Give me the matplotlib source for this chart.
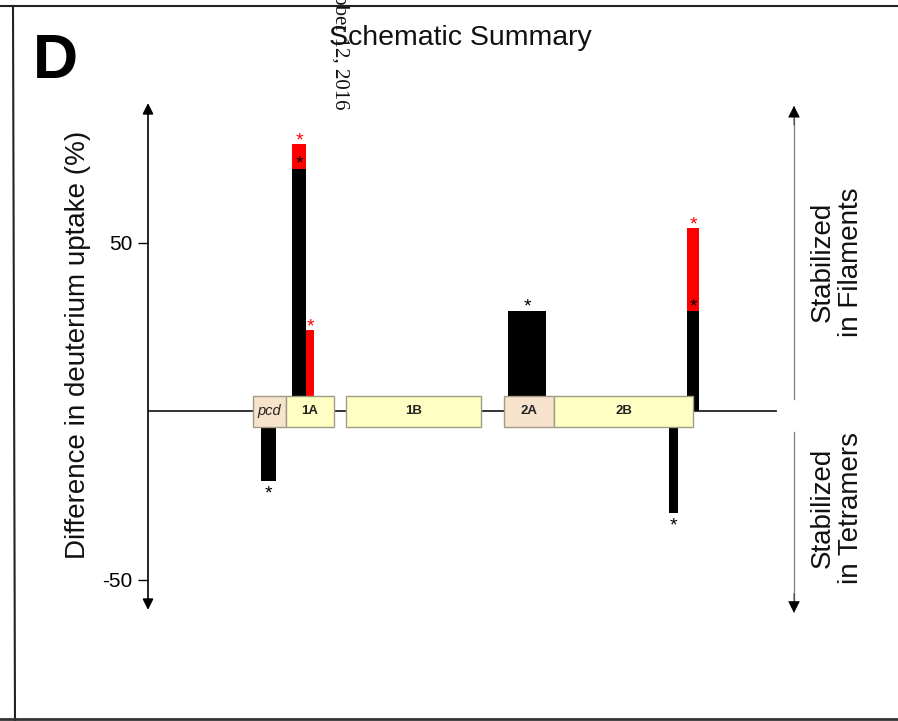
import matplotlib.pyplot as plt
from matplotlib.patches import Rectangle
from matplotlib.lines import Line2D

plt.rcParams['font.family'] = ['Liberation Sans', 'DejaVu Sans']

# domain map along the sequence (schematic positions)
domains = ['pcd', '1A', '1B', '2A', '2B']
dom_start = [105, 138, 198, 356, 406]
dom_end = [138, 186, 333, 406, 545]
dom_fill = ['#f7e3cc', '#ffffc4', '#ffffc4', '#f7e3cc', '#ffffc4']

# peptide bars: sequence span, black part, red part stacked on top (%)
pep_start = [113, 144, 158, 360, 521, 539]
pep_end = [128, 158, 166, 398, 530, 551]
black_vals = [-20.6, 72.0, 0.0, 29.8, -30.1, 29.8]
red_vals = [0.0, 7.4, 24.2, 0.0, 0.0, 24.7]

seq_end = 628

fig = plt.figure(figsize=(8.98, 7.21), dpi=100)
ax = fig.add_axes([148 / 898, 101 / 721, 662 / 898, 525 / 721])
ax.set_xlim(0, 662)
ax.set_ylim(-61.9, 93.9)
for s in ax.spines.values():
    s.set_visible(False)
ax.set_xticks([])
ax.set_yticks([50, -50])
ax.set_yticklabels(['50', '-50'])
ax.tick_params(axis='y', length=7, width=1, pad=4, labelsize=15)

# y axis with arrows at both ends
ax.annotate('', xy=(0, 91.5), xytext=(0, -58.9),
            arrowprops=dict(arrowstyle='<|-|>', color='black', lw=1.2,
                            mutation_scale=16, shrinkA=0, shrinkB=0))

# sequence line
ax.plot([0, seq_end], [0, 0], color='#222222', lw=1.3, zorder=1)

# bars with significance stars
for x0, x1, b, r in zip(pep_start, pep_end, black_vals, red_vals):
    w = x1 - x0
    if b != 0:
        ax.bar(x0, b, width=w, align='edge', color='black', zorder=2)
        off = 0 if b > 0 else -13
        ax.annotate('*', (x0 + w / 2, b), xytext=(0, off), textcoords='offset points',
                    ha='center', va='baseline', fontsize=14, color='black', zorder=5)
    if r != 0:
        ax.bar(x0, r, width=w, bottom=max(b, 0), align='edge', color='#ff0000', zorder=2)
        ax.annotate('*', (x0 + w / 2, max(b, 0) + r), xytext=(0, -1), textcoords='offset points',
                    ha='center', va='baseline', fontsize=14, color='#ff0000', zorder=5)

# domain boxes
for name, x0, x1, fc in zip(domains, dom_start, dom_end, dom_fill):
    ax.add_patch(Rectangle((x0, -4.6), x1 - x0, 9.2, facecolor=fc,
                           edgecolor='#a09a88', lw=1, zorder=3))
    if name == 'pcd':
        ax.text((x0 + x1) / 2, 0, name, ha='center', va='center', fontsize=10.5,
                style='italic', color='#222222', zorder=4)
    else:
        ax.text((x0 + x1) / 2, 0, name, ha='center', va='center', fontsize=9.5,
                weight='bold', color='#222222', zorder=4)

# right-hand direction arrows: gray shaft, black head
ax.plot([646, 646], [3.7, 88], color='#888888', lw=1, clip_on=False)
ax.plot([646, 646], [-6.1, -57], color='#888888', lw=1, clip_on=False)
ax.annotate('', xy=(646, 90.7), xytext=(646, 85),
            arrowprops=dict(arrowstyle='-|>', color='black', lw=0.5,
                            mutation_scale=19, shrinkA=0, shrinkB=0), annotation_clip=False)
ax.annotate('', xy=(646, -59.8), xytext=(646, -54),
            arrowprops=dict(arrowstyle='-|>', color='black', lw=0.5,
                            mutation_scale=19, shrinkA=0, shrinkB=0), annotation_clip=False)

fig.text(837 / 898, 1 - 262 / 721, 'Stabilized\nin Filaments', rotation=90,
         ha='center', va='center', fontsize=20, linespacing=1.1, color='#111111')
fig.text(837 / 898, 1 - 508 / 721, 'Stabilized\nin Tetramers', rotation=90,
         ha='center', va='center', fontsize=20, linespacing=1.1, color='#111111')

# labels
fig.text(78 / 898, 1 - 345 / 721, 'Difference in deuterium uptake (%)', rotation=90,
         ha='center', va='center', fontsize=20, color='#111111')
fig.text(460 / 898, 1 - 38 / 721, 'Schematic Summary', ha='center', va='center',
         fontsize=20.5, color='#111111')
fig.text(33 / 898, 1 - 78 / 721, 'D', ha='left', va='baseline', fontsize=45,
         weight='bold', color='black')
fig.text(340 / 898, 1 - 110 / 721, 'October 12, 2016', rotation=270, ha='center',
         va='bottom', fontsize=15, family='Liberation Serif', color='#111111')

# page frame lines
fig.add_artist(Line2D([0, 1], [1 - 6 / 721] * 2, color='#222222', lw=1.5))
fig.add_artist(Line2D([13 / 898, 15 / 898], [1 - 6 / 721, 0], color='#222222', lw=1.5))
fig.add_artist(Line2D([0, 1], [2 / 721] * 2, color='#333333', lw=2))

fig.savefig('out.png', dpi=100)
